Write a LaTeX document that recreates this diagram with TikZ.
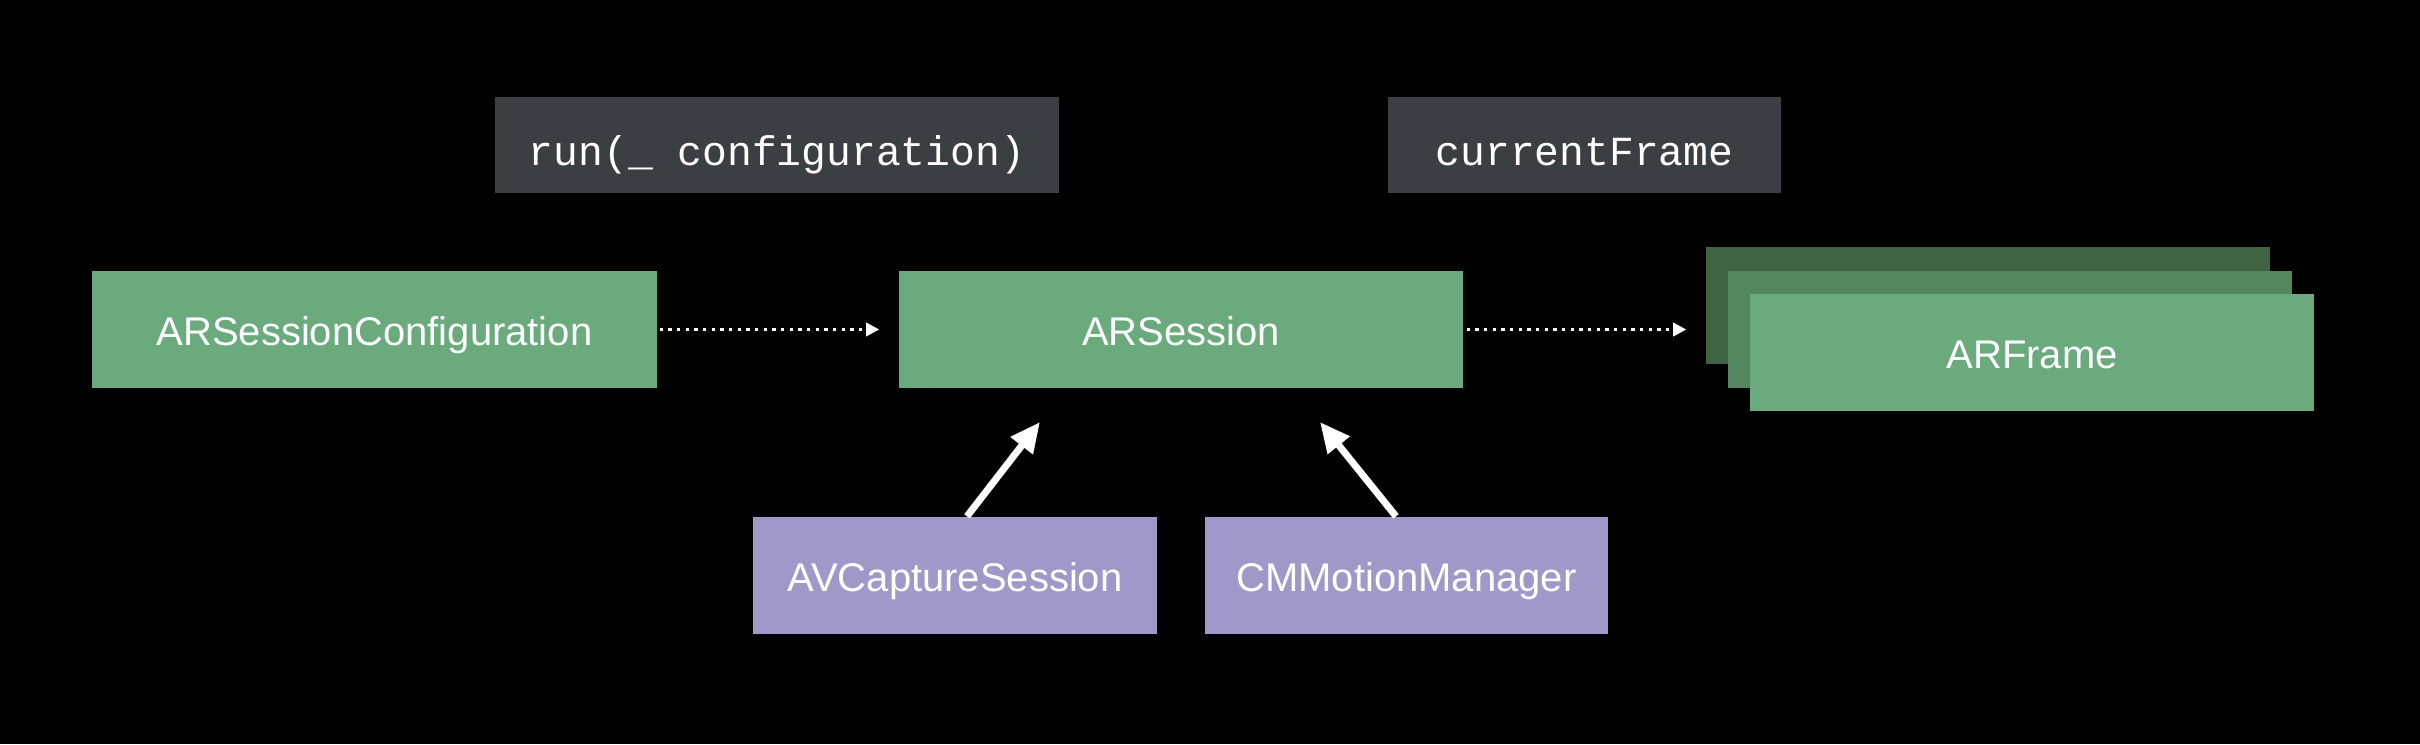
\documentclass[tikz,border=0pt]{standalone}
\usepackage{fontspec}
\setmainfont{Liberation Sans}
\setmonofont{Liberation Mono}
\usetikzlibrary{arrows.meta,calc}
\definecolor{bggreen}{RGB}{106,170,125}
\definecolor{midgreen}{RGB}{84,134,96}
\definecolor{darkgreen}{RGB}{62,98,66}
\definecolor{lav}{RGB}{160,152,200}
\definecolor{codebg}{RGB}{59,63,67}
\begin{document}
\begin{tikzpicture}[x=0.3pt,y=-0.3pt,
  box/.style={draw=none,minimum width=#1*0.3pt,minimum height=117*0.3pt,inner sep=0pt,text=white,text height=9.3pt,text depth=0pt,font=\fontsize{12}{14}\selectfont},
  greenbox/.style={box=#1,fill=bggreen},
  lavbox/.style={box=#1,fill=lav},
  codebox/.style={draw=none,fill=codebg,minimum width=#1*0.3pt,minimum height=96*0.3pt,inner sep=0pt,text=white,text height=12pt,text depth=0pt,font=\ttfamily\fontsize{12.4}{14}\selectfont},
  dotarrow/.style={white,line width=0.9pt,dash pattern=on 1pt off 1.6pt,-{Triangle[length=4pt,width=4pt]},shorten >=5.7pt},
  bigarrow/.style={white,line width=2.1pt,-{Triangle[length=9pt,width=8pt]}}]
\fill[black] (0,0) rectangle (2420,744);
\useasboundingbox (0,0) rectangle (2420,744);
\node[codebox=564] (run) at (777,145) {run(\_ configuration)};
\node[codebox=393] (cur) at (1584.5,145) {currentFrame};
\node[greenbox=565] (cfg) at (374.5,329.5) {ARSessionConfiguration};
\node[greenbox=564] (ses) at (1181,329.5) {ARSession};
\node[box=564,fill=darkgreen] (f3) at (1988,305.5) {};
\node[box=564,fill=midgreen] (f2) at (2010,329.5) {};
\node[greenbox=564] (f1) at (2032,352.5) {ARFrame};
\node[lavbox=404] (av) at (955,575.5) {AVCaptureSession};
\node[lavbox=403] (cm) at (1406.5,575.5) {CMMotionManager};
\draw[dotarrow,shorten <=0.6pt] (cfg.east) -- (ses.west);
\draw[dotarrow,shorten <=0.9pt] (ses.east) -- (ses.east -| f3.west);
\coordinate (t1) at (1040,422);
\coordinate (t2) at (1320,422);
\draw[bigarrow] ($(av.north)+(12,0)$) -- (t1);
\draw[bigarrow] ($(cm.north)+(-10.5,0)$) -- (t2);
\end{tikzpicture}
\end{document}
